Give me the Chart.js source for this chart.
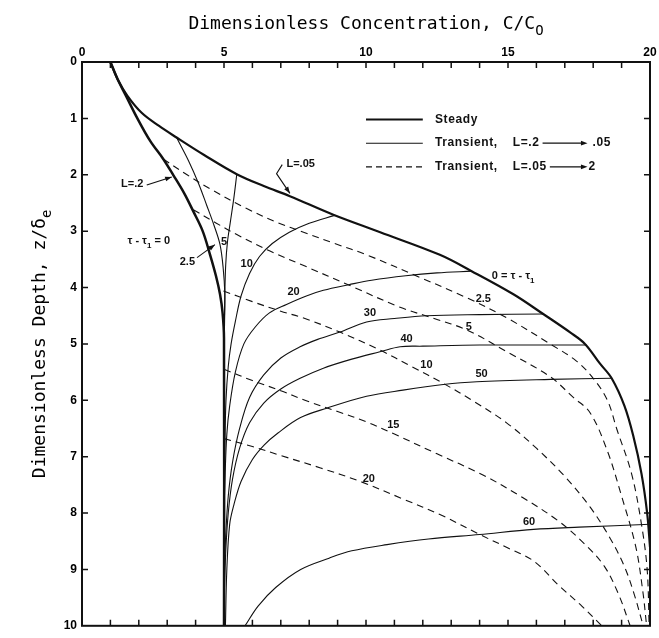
<!DOCTYPE html>
<html><head><meta charset="utf-8">
<script src="https://cdn.jsdelivr.net/npm/chart.js@4.4.1/dist/chart.umd.min.js"></script>
<style>html,body{margin:0;padding:0;background:#fff}#wrap{width:659px;height:638px}</style>
</head><body><div id="wrap"><canvas id="c" width="659" height="638"></canvas></div>
<script>
// ---------- data (C/Co, z/de) ----------
const xTickLabels = [0, 5, 10, 15, 20];
const yTickLabels = [0, 1, 2, 3, 4, 5, 6, 7, 8, 9, 10];

// Steady profile L=.05 (also tau-tau1 = 0 of the dashed family)
const steady = [[1,0],[1.25,0.3],[1.6,0.6],[2.1,0.9],[2.7,1.13],[3.33,1.34],[4.3,1.65],[5.45,1.99],[6.4,2.2],[7.32,2.38],[8.85,2.71],[10.5,3.02],[12.6,3.42],[13.72,3.71],[15.19,4.12],[16.24,4.47],[17.2,4.8],[17.71,5.0],[18.24,5.35],[18.65,5.61],[19.1,6.1],[19.41,6.63],[19.7,7.3],[19.9,8.0],[20,8.6]];
// Steady profile L=.2 (tau-tau1 = 0 of the solid transient family)
const steadyL2 = [[1,0],[1.25,0.3],[1.55,0.6],[1.95,1.0],[2.4,1.4],[2.86,1.72],[3.22,2.01],[3.6,2.33],[3.92,2.65],[4.25,3.0],[4.51,3.42],[4.72,3.8],[4.86,4.12],[4.95,4.45],[5.0,4.9],[5,10]];

// Transient, L = .2 -> .05 (solid), tau - tau1 = 2.5 ... 60
const up2_5 = [[3.33,1.34],[3.75,1.75],[4.1,2.15],[4.39,2.54],[4.65,2.9],[4.86,3.24],[4.97,3.65],[5.03,4.12],[5.02,4.6],[5.0,5.2]];
const up5  = [[5.45,1.99],[5.35,2.4],[5.22,2.85],[5.12,3.2],[5.06,3.6],[5.03,4.1],[5.01,4.8],[5.0,5.5]];
const up10 = [[8.9,2.72],[8.0,2.86],[7.3,3.02],[6.7,3.22],[6.25,3.45],[5.9,3.75],[5.6,4.15],[5.4,4.6],[5.25,5.0],[5.15,5.4],[5.07,6.0],[5.03,6.8],[5.0,7.6]];
const up20 = [[13.72,3.71],[12.5,3.74],[11.4,3.79],[10.2,3.87],[9.4,3.95],[8.5,4.05],[7.9,4.15],[7.2,4.3],[6.6,4.45],[6.1,4.7],[5.7,5.0],[5.4,5.5],[5.2,6.1],[5.1,6.6],[5.04,7.3],[5.0,8.0]];
const up30 = [[16.24,4.47],[14,4.48],[12.13,4.5],[11,4.55],[10.02,4.61],[9.08,4.79],[8.3,4.92],[7.68,5.05],[7.0,5.25],[6.4,5.55],[5.9,5.95],[5.55,6.5],[5.3,7.1],[5.15,7.7],[5.06,8.4],[5.0,9.2]];
const up40 = [[17.77,5.02],[14.0,5.02],[12,5.04],[11.2,5.05],[10.49,5.14],[9.5,5.27],[8.5,5.43],[7.68,5.61],[7.0,5.8],[6.4,6.05],[5.9,6.4],[5.55,6.85],[5.3,7.4],[5.15,8.0],[5.06,8.7],[5.0,9.6]];
const up50 = [[18.65,5.61],[16.5,5.63],[13.9,5.67],[12.72,5.72],[11.3,5.82],[10.02,5.93],[8.62,6.14],[7.68,6.31],[6.9,6.58],[6.42,6.79],[6.0,7.05],[5.6,7.44],[5.35,7.85],[5.2,8.2],[5.1,9.0],[5.05,10]];
const up60 = [[20,8.2],[17.5,8.25],[15.9,8.29],[14,8.38],[12.2,8.46],[10.74,8.56],[9.5,8.67],[8.7,8.8],[7.7,9.0],[6.82,9.32],[6.2,9.65],[5.74,10]];

// Transient, L = .05 -> .2 (dashed), tau - tau1 = 2.5 ... 20
const dn2_5 = [[2.86,1.72],[3.7,2.0],[4.51,2.25],[5.8,2.6],[6.9,2.85],[7.8,3.02],[8.9,3.22],[10.02,3.42],[11.8,3.8],[13.54,4.18],[15.0,4.55],[16.48,5.0],[17.4,5.3],[18.0,5.61],[18.5,6.0],[18.83,6.51],[19.35,7.3],[19.7,8.2],[19.9,9.0],[19.97,10]];
const dn5  = [[3.92,2.62],[4.7,2.85],[5.45,3.06],[6.6,3.35],[7.85,3.62],[9.5,3.98],[11.2,4.35],[12.4,4.55],[13.54,4.75],[15.0,5.15],[16.48,5.58],[17.3,5.95],[17.89,6.22],[18.5,6.9],[19.0,7.7],[19.5,8.6],[19.75,9.4],[19.88,10]];
const dn10 = [[4.98,4.06],[6.0,4.25],[7.0,4.42],[7.85,4.55],[9.08,4.79],[10.49,5.11],[11.6,5.4],[12.72,5.7],[13.8,6.02],[14.95,6.4],[16.0,6.85],[17.0,7.35],[17.9,7.9],[18.6,8.45],[19.1,8.95],[19.45,9.45],[19.76,10]];
const dn15 = [[5.0,5.45],[6.0,5.65],[7.0,5.83],[7.85,6.0],[9.0,6.2],[10.0,6.38],[11,6.6],[12.5,6.95],[14.1,7.32],[15.5,7.72],[16.8,8.15],[17.7,8.55],[18.4,8.95],[18.9,9.45],[19.3,10]];
const dn20 = [[5.0,6.68],[6.0,6.82],[7.0,6.98],[8.4,7.2],[9.8,7.44],[11.3,7.75],[12.7,8.05],[14.0,8.38],[15.0,8.62],[15.9,8.85],[16.8,9.29],[17.6,9.65],[18.3,10]];

// Curve labels: text parts [string, isSubscript], anchor (C, z), alignment
const curveLabels = [
  {parts:[['L=.05',0]], c:7.2, z:1.8, align:'left'},
  {parts:[['L=.2',0]], c:2.16, z:2.17, align:'right'},
  {parts:[['\u03C4 - \u03C4',0],['1',1],[' = 0',0]], c:1.6, z:3.18, align:'left'},
  {parts:[['2.5',0]], c:3.98, z:3.55, align:'right'},
  {parts:[['5',0]], c:5.0, z:3.2, align:'center'},
  {parts:[['10',0]], c:5.8, z:3.58, align:'center'},
  {parts:[['20',0]], c:7.45, z:4.08, align:'center'},
  {parts:[['30',0]], c:10.14, z:4.45, align:'center'},
  {parts:[['40',0]], c:11.43, z:4.92, align:'center'},
  {parts:[['50',0]], c:14.07, z:5.53, align:'center'},
  {parts:[['60',0]], c:15.74, z:8.15, align:'center'},
  {parts:[['0 = \u03C4 - \u03C4',0],['1',1]], c:14.43, z:3.8, align:'left'},
  {parts:[['2.5',0]], c:14.13, z:4.2, align:'center'},
  {parts:[['5',0]], c:13.62, z:4.7, align:'center'},
  {parts:[['10',0]], c:12.13, z:5.37, align:'center'},
  {parts:[['15',0]], c:10.96, z:6.44, align:'center'},
  {parts:[['20',0]], c:10.1, z:7.4, align:'center'}
];
// Leader arrows (C, z) from label to curve
const leaderL05 = [[7.05,1.82],[6.85,1.98],[7.32,2.33]];
const leaderL2  = [[2.28,2.18],[3.16,2.04]];
const leader25  = [[4.05,3.47],[4.68,3.24]];

const legendItems = [
  {label:'Steady', width:2.2, dash:[]},
  {label:'Transient,', from:'L=.2', to:'.05', gap:5, width:1.1, dash:[]},
  {label:'Transient,', from:'L=.05', to:'2', gap:1, width:1.1, dash:[6,4]}
];

// ---------- chart ----------
const INK = '#111';
const SANS = '"Liberation Sans", Arial, sans-serif';
function pts(a){ return a.map(p => ({x:p[0], y:p[1]})); }
function ds(a, w, dash){ return {data:pts(a), showLine:true, borderColor:INK, borderWidth:w, borderDash:dash||[], pointRadius:0, tension:0.35, fill:false}; }

const datasets = [
  ds(steady, 2.2), ds(steadyL2, 2.5),
  ds(up2_5,1.1), ds(up5,1.1), ds(up10,1.1), ds(up20,1.1), ds(up30,1.1), ds(up40,1.1), ds(up50,1.1), ds(up60,1.1),
  ds(dn2_5,1.1,[7,5]), ds(dn5,1.1,[7,5]), ds(dn10,1.1,[7,5]), ds(dn15,1.1,[7,5]), ds(dn20,1.1,[7,5])
];

function drawParts(ctx, parts, x, y, align, size, family){
  const mainF = 'bold ' + size + 'px ' + family;
  const subF = 'bold ' + Math.round(size*0.75) + 'px ' + family;
  let total = 0;
  parts.forEach(p => { ctx.font = p[1] ? subF : mainF; total += ctx.measureText(p[0]).width; });
  let sx = align === 'left' ? x : align === 'right' ? x - total : x - total/2;
  ctx.textAlign = 'left'; ctx.textBaseline = 'middle';
  parts.forEach(p => {
    ctx.font = p[1] ? subF : mainF;
    ctx.fillText(p[0], sx, p[1] ? y + size*0.4 : y);
    sx += ctx.measureText(p[0]).width;
  });
  return total;
}
function arrowHead(ctx, x0, y0, x1, y1, s){
  const ang = Math.atan2(y1-y0, x1-x0);
  ctx.beginPath();
  ctx.moveTo(x1, y1);
  ctx.lineTo(x1 - s*Math.cos(ang-0.35), y1 - s*Math.sin(ang-0.35));
  ctx.lineTo(x1 - s*Math.cos(ang+0.35), y1 - s*Math.sin(ang+0.35));
  ctx.closePath(); ctx.fill();
}

const deco = {
  id:'deco',
  afterDraw(chart){
    const ctx = chart.ctx, a = chart.chartArea;
    const xs = chart.scales.x, ys = chart.scales.y;
    const X = v => xs.getPixelForValue(v), Y = v => ys.getPixelForValue(v);
    ctx.save();
    ctx.strokeStyle = INK; ctx.fillStyle = INK;
    // frame
    ctx.lineWidth = 2;
    ctx.strokeRect(a.left, a.top, a.right - a.left, a.bottom - a.top);
    // inward ticks
    ctx.lineWidth = 1.5;
    ctx.beginPath();
    for (let c = 1; c < 20; c++){ const px = X(c); ctx.moveTo(px, a.top); ctx.lineTo(px, a.top + 6); ctx.moveTo(px, a.bottom); ctx.lineTo(px, a.bottom - 6); }
    for (let z = 1; z < 10; z++){ const py = Y(z); ctx.moveTo(a.left, py); ctx.lineTo(a.left + 6, py); ctx.moveTo(a.right, py); ctx.lineTo(a.right - 6, py); }
    ctx.stroke();
    // leaders
    ctx.lineWidth = 1.1;
    [leaderL05, leaderL2, leader25].forEach(L => {
      ctx.beginPath();
      L.forEach((p,i) => { const px = X(p[0]), py = Y(p[1]); if (i) ctx.lineTo(px,py); else ctx.moveTo(px,py); });
      ctx.stroke();
      const n = L.length;
      arrowHead(ctx, X(L[n-2][0]), Y(L[n-2][1]), X(L[n-1][0]), Y(L[n-1][1]), 7);
    });
    // curve labels
    curveLabels.forEach(l => drawParts(ctx, l.parts, X(l.c), Y(l.z), l.align, 11, SANS));
    // legend
    const lx0 = X(10.0), lx1 = X(12.0), tx = X(12.43), fx = X(15.17), arrowEnd = X(17.8);
    ctx.letterSpacing = '0.6px';
    legendItems.forEach((it, i) => {
      const py = Y(1.02 + i*0.42);
      ctx.lineWidth = it.width; ctx.setLineDash(it.dash);
      ctx.beginPath(); ctx.moveTo(lx0, py); ctx.lineTo(lx1, py); ctx.stroke();
      ctx.setLineDash([]);
      drawParts(ctx, [[it.label,0]], tx, py, 'left', 12, SANS);
      if (it.to){
        const w = drawParts(ctx, [[it.from,0]], fx, py, 'left', 12, SANS);
        const ax0 = fx + w + 3;
        ctx.lineWidth = 1.3;
        ctx.beginPath(); ctx.moveTo(ax0, py); ctx.lineTo(arrowEnd - 4, py); ctx.stroke();
        arrowHead(ctx, ax0, py, arrowEnd, py, 7);
        drawParts(ctx, [[it.to,0]], arrowEnd + it.gap, py, 'left', 12, SANS);
      }
    });
    ctx.letterSpacing = '0px';
    // axis titles
    ctx.fillStyle = '#000';
    const mono = '"DejaVu Sans Mono", "Liberation Mono", monospace';
    drawTitle(ctx, [['Dimensionless Concentration, C/C',0],['O',1]], (a.left + a.right)/2, 24, 0, mono);
    drawTitle(ctx, [['Dimensionless Depth, z/\u03B4',0],['e',1]], 40, (a.top + a.bottom)/2, -Math.PI/2, mono);
    ctx.restore();
  }
};
function drawTitle(ctx, parts, cx, cy, rot, family){
  ctx.save();
  ctx.translate(cx, cy); ctx.rotate(rot);
  const size = 18;
  const mainF = size + 'px ' + family, subF = '14px ' + family;
  let total = 0;
  parts.forEach(p => { ctx.font = p[1] ? subF : mainF; total += ctx.measureText(p[0]).width; });
  let sx = -total/2;
  ctx.textBaseline = 'middle'; ctx.textAlign = 'left';
  parts.forEach(p => { ctx.font = p[1] ? subF : mainF; ctx.fillText(p[0], sx, p[1] ? 7 : 0); sx += ctx.measureText(p[0]).width; });
  ctx.restore();
}

new Chart(document.getElementById('c'), {
  type:'scatter',
  data:{datasets},
  options:{
    responsive:false, animation:false, devicePixelRatio:1,
    layout:{padding:{left:0, top:0, right:9, bottom:6}},
    plugins:{legend:{display:false}, tooltip:{enabled:false}},
    scales:{
      x:{type:'linear', position:'top', min:0, max:20,
         grid:{display:false, drawTicks:false}, border:{display:false},
         ticks:{color:'#000', padding:2, font:{family:SANS, size:12, weight:'bold'}},
         afterBuildTicks: s => { s.ticks = xTickLabels.map(v => ({value:v})); },
         afterFit: s => { s.height = 62; }},
      y:{type:'linear', reverse:true, min:0, max:10,
         grid:{display:false, drawTicks:false}, border:{display:false},
         ticks:{color:'#000', padding:5, font:{family:SANS, size:12, weight:'bold'}},
         afterBuildTicks: s => { s.ticks = yTickLabels.map(v => ({value:v})); },
         afterFit: s => { s.width = 82; }}
    }
  },
  plugins:[deco]
});
</script></body></html>
